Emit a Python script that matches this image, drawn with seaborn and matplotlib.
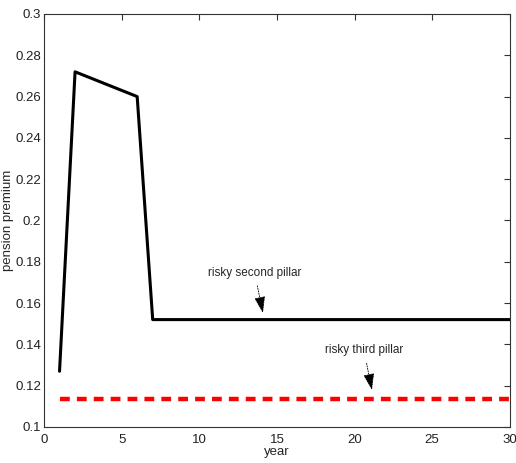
import matplotlib
matplotlib.use("Agg")
import matplotlib.pyplot as plt
import seaborn as sns
import pandas as pd

years_second = [1, 2, 6, 7, 30]
premium_second = [0.127, 0.272, 0.260, 0.152, 0.152]
years_third = [1, 30]
premium_third = [0.1136, 0.1136]
x_ticks = [0, 5, 10, 15, 20, 25, 30]
y_ticks = [0.1, 0.12, 0.14, 0.16, 0.18, 0.2, 0.22, 0.24, 0.26, 0.28, 0.3]
y_tick_labels = ["0.1", "0.12", "0.14", "0.16", "0.18", "0.2", "0.22", "0.24", "0.26", "0.28", "0.3"]

sns.set_style("white")
plt.rcParams['font.family'] = ['Liberation Sans', 'DejaVu Sans']

fig = plt.figure(figsize=(5.16, 4.63), dpi=100)
ax = fig.add_axes([0.0853, 0.0778, 0.9027, 0.892])

df2 = pd.DataFrame({"year": years_second, "premium": premium_second})
df3 = pd.DataFrame({"year": years_third, "premium": premium_third})
sns.lineplot(data=df2, x="year", y="premium", color="black", linewidth=2.2, ax=ax)
sns.lineplot(data=df3, x="year", y="premium", color="#ff0000", linewidth=3.2,
             linestyle=(0, (2.2, 1.6)), ax=ax)

ax.set_xlim(0, 30)
ax.set_ylim(0.1, 0.3)
ax.set_xticks(x_ticks)
ax.set_xticklabels([str(t) for t in x_ticks])
ax.set_yticks(y_ticks)
ax.set_yticklabels(y_tick_labels)
ax.tick_params(direction="in", length=4, width=0.8, top=True, right=True,
               labelsize=9.5, colors="#333333", pad=3)
ax.tick_params(axis="x", labelcolor="#222222", pad=5)
ax.tick_params(axis="y", labelcolor="#222222", pad=2)
for s in ax.spines.values():
    s.set_color("#333333")
    s.set_linewidth(0.8)
ax.set_xlabel("year", fontsize=9.5)
ax.set_ylabel("pension premium", fontsize=9.5)
ax.xaxis.set_label_coords(0.5, -0.046)
ax.yaxis.set_label_coords(-0.064, 0.5)

arrow_kw = dict(arrowstyle="-|>,head_length=1.2,head_width=0.4",
                linestyle=(0, (1.5, 1.5)), color="black", lw=0.6,
                shrinkA=3, shrinkB=0)
ax.annotate("risky second pillar", xy=(14.1, 0.1552), xytext=(13.56, 0.1748),
            ha="center", va="center", fontsize=8.5, arrowprops=arrow_kw)
ax.annotate("risky third pillar", xy=(21.12, 0.1179), xytext=(20.6, 0.1373),
            ha="center", va="center", fontsize=8.5, arrowprops=arrow_kw)

fig.savefig("out.png", dpi=100)
